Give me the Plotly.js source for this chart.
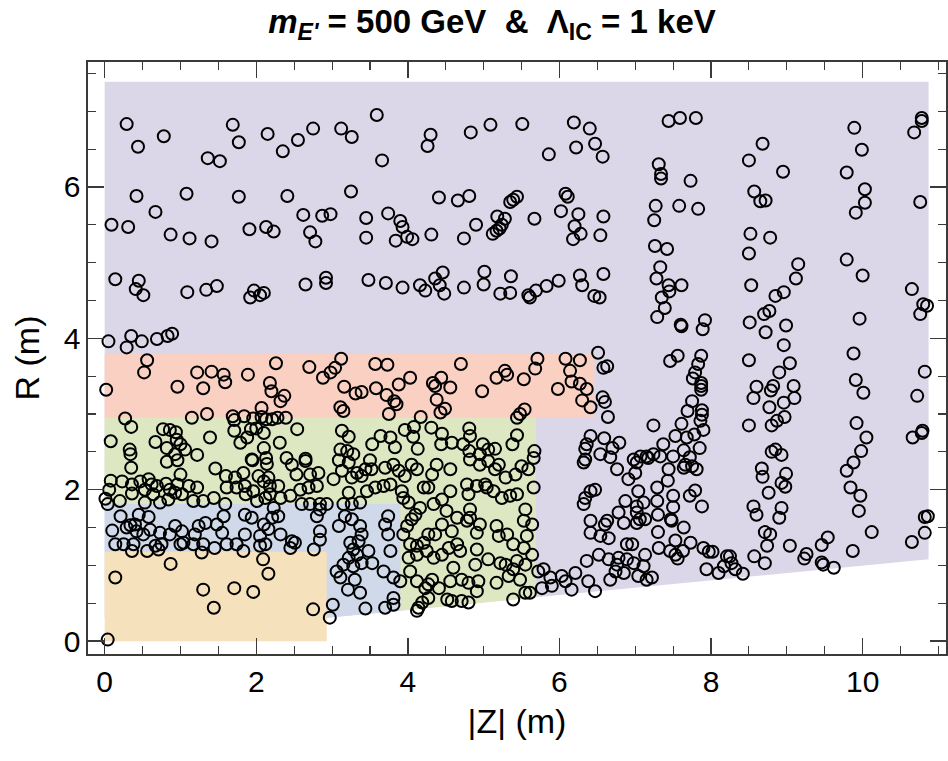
<!DOCTYPE html>
<html>
<head>
<meta charset="utf-8">
<script src="https://cdn.plot.ly/plotly-3.0.1.min.js"></script>
<style>html,body{margin:0;padding:0;background:#fff;}#chart{width:948px;height:761px;}</style>
</head>
<body>
<div id="chart"></div>
<script>
// ---- Detector regions (|Z|, R) in metres ----
const regionNames = ["outer", "band R 2.95-3.8", "band R 1.81-2.95", "band R 1.18-1.81", "inner"];
const outerZ = [0, 10.87, 10.87, 2.93, 0];
const outerR = [7.39, 7.39, 1.08, 0.31, 0.31];
const redZ = [0, 6.46, 6.46, 0];
const redR = [2.95, 2.95, 3.80, 3.80];
const greenZ = [0, 0, 5.69, 5.69, 3.90, 3.90];
const greenR = [1.81, 2.95, 2.95, 0.58, 0.40, 1.81];
const blueZ = [0, 0, 3.90, 3.90, 2.93, 2.93];
const blueR = [1.18, 1.81, 1.81, 0.40, 0.31, 1.18];
const tanZ = [0, 0, 2.93, 2.93];
const tanR = [0, 1.18, 1.18, 0];

// ---- Hit points [|Z|, R] ----
const hitPairs = [
[0.29,6.83],[0.44,6.53],[0.78,6.67],[1.69,6.82],[1.77,6.59],[1.36,6.38],[1.52,6.34],[2.15,6.70],[2.35,6.47],[2.55,6.62],[2.75,6.77],[3.12,6.77],[3.26,6.66],
[0.42,5.88],[1.08,5.91],[1.77,5.87],[2.41,5.88],[3.25,5.94],[0.67,5.67],[0.09,5.50],[0.31,5.47],[0.87,5.37],[1.12,5.32],[1.41,5.28],[1.91,5.44],[2.13,5.47],[2.23,5.41],[2.62,5.63],[2.87,5.62],[2.98,5.64],[2.71,5.40],[2.78,5.28],[3.45,5.59],[3.45,5.33],
[3.59,6.95],[4.30,6.69],[4.26,6.54],[3.66,6.35],[4.83,6.72],[5.09,6.82],[5.51,6.83],[5.86,6.43],[6.19,6.85],[6.40,6.77],[6.22,6.52],[6.47,6.57],[6.57,6.40],
[4.41,5.86],[4.66,5.82],[4.81,5.88],[5.35,5.80],[5.39,5.83],[5.44,5.87],[6.08,5.91],[6.11,5.87],[3.74,5.65],[3.90,5.55],[3.93,5.47],[3.99,5.34],[4.06,5.31],[3.84,5.29],[4.31,5.37],[4.74,5.32],[4.90,5.50],[5.18,5.61],[5.28,5.58],[5.24,5.50],[5.21,5.45],[5.17,5.42],[5.12,5.38],[5.67,5.58],[6.02,5.68],[6.25,5.64],[6.20,5.48],[6.28,5.38],[6.18,5.31],[6.54,5.36],[6.58,5.61],
[7.44,6.87],[7.59,6.91],[7.80,6.91],[8.68,6.57],[8.50,6.35],[8.95,6.20],[9.89,6.78],[9.99,6.49],[9.79,6.19],[10.03,5.97],[10.03,5.79],[9.91,5.66],[10.78,6.91],[10.78,6.87],[10.68,6.72],[10.76,5.80],
[7.31,6.30],[7.34,6.17],[7.34,6.11],[7.73,6.08],[8.57,5.94],[8.65,5.81],[8.72,5.82],[7.27,5.75],[7.25,5.56],[7.58,5.75],[7.83,5.71],[7.26,5.22],[7.42,5.18],[8.52,5.38],[8.78,5.33],[8.50,5.12],[9.79,5.04],[9.15,4.98],[7.33,4.94],
[0.14,4.78],[0.45,4.76],[0.41,4.65],[0.51,4.57],[1.09,4.61],[1.34,4.64],[1.48,4.69],[1.97,4.63],[1.92,4.54],[2.05,4.57],[2.10,4.60],[2.65,4.71],[2.92,4.80],[2.92,4.73],[3.48,4.77],
[0.05,3.96],[0.35,4.03],[0.29,3.88],[0.49,3.96],[0.69,3.99],[0.83,4.03],[0.89,4.06],
[0.56,3.71],[0.52,3.55],[0.02,3.32],[0.96,3.36],[1.22,3.55],[1.41,3.56],[1.57,3.52],[1.59,3.42],[1.30,3.34],[1.89,3.52],[2.18,3.41],[2.20,3.30],[2.32,3.17],[2.37,3.24],[2.26,3.67],[2.70,3.62],[2.88,3.48],[2.98,3.55],[3.04,3.61],[3.12,3.73],[3.16,3.36],[3.31,3.27],[3.39,3.29],[3.11,3.09],[3.15,3.04],[2.07,3.08],
[0.27,2.94],[0.35,2.83],[0.08,2.64],[1.15,2.95],[1.35,3.00],[1.69,2.97],[1.71,2.92],[1.84,2.97],[1.96,2.94],[2.07,2.96],[2.13,2.93],[2.21,2.93],[2.28,2.95],[2.39,2.95],[0.77,2.80],[0.86,2.79],[0.94,2.76],[0.67,2.63],[0.82,2.55],[0.95,2.66],[1.00,2.60],[1.06,2.53],[0.93,2.47],[1.39,2.69],[1.22,2.46],[1.71,2.78],[1.79,2.62],[1.88,2.69],[1.93,2.80],[2.00,2.81],[2.10,2.75],[2.10,2.55],[2.31,2.62],[2.54,2.80],[3.13,2.78],[3.22,2.70],[3.11,2.53],[3.20,2.51],[3.28,2.47],[3.53,2.60],[0.33,2.53],[0.34,2.47],[2.13,2.42],[2.40,2.42],[2.65,2.41],[1.94,2.40],
[3.71,4.73],[3.93,4.67],[4.16,4.70],[4.23,4.63],[4.36,4.79],[4.46,4.87],[4.42,4.70],[4.48,4.59],[4.74,4.67],[5.01,4.88],[5.00,4.71],[5.22,4.59],[5.35,4.60],[5.36,4.82],[5.59,4.57],[5.61,4.54],[5.69,4.63],[5.83,4.69],[5.99,4.76],[6.27,4.83],[6.30,4.70],[6.58,4.85],[6.46,4.56],[6.53,4.54],
[3.57,3.66],[3.73,3.65],[3.58,3.34],[3.72,3.25],[3.82,3.17],[3.85,3.13],[3.75,3.00],[3.88,3.39],[4.03,3.48],[4.33,3.41],[4.36,3.37],[4.44,3.48],[4.56,3.35],[4.38,3.19],[4.49,3.07],[4.43,3.02],[4.70,3.66],[4.98,3.30],[5.17,3.48],[5.28,3.57],[5.31,3.52],[5.53,3.46],[5.68,3.60],[5.71,3.73],[5.44,2.95],[5.48,3.00],[5.54,3.06],[5.98,3.33],[6.08,3.73],[6.27,3.71],[6.14,3.57],[6.16,3.43],[6.27,3.40],[6.36,3.33],[6.30,3.18],[6.41,3.09],
[6.51,3.81],[6.58,3.61],[6.63,3.63],[6.57,3.22],[6.60,3.16],[6.64,2.96],
[4.17,2.96],[4.08,2.83],[3.96,2.79],[4.07,2.70],[4.31,2.82],[4.45,2.74],[4.44,2.60],[4.58,2.62],[4.81,2.81],[4.82,2.71],[4.73,2.60],[4.99,2.60],[4.81,2.51],[5.15,2.54],[5.38,2.60],[5.44,2.72],[5.67,2.51],[3.64,2.71],[3.77,2.69],[3.83,2.56],[4.13,2.54],[5.06,2.53],[4.95,2.47],
[6.41,2.71],[6.59,2.68],[6.79,2.62],[6.36,2.60],[6.34,2.54],[6.70,2.55],[7.24,2.85],[7.24,2.47],[7.07,2.44],[7.15,2.44],[6.98,2.40],[6.54,2.47],[6.67,2.43],
[7.28,4.79],[7.44,4.70],[7.61,4.70],[7.45,4.62],[7.35,4.54],[7.39,4.40],[7.29,4.28],[7.60,4.18],[7.61,4.16],[7.92,4.24],[7.89,4.12],[7.46,3.70],[7.56,3.77],[7.87,3.77],[7.83,3.66],[7.79,3.55],[7.76,3.47],[7.87,3.41],[7.87,3.37],[7.87,3.32],[7.75,3.17],[7.69,3.04],[7.88,3.05],[7.88,2.99],[7.86,2.91],[7.90,2.79],[7.61,2.87],[7.53,2.71],[7.68,2.69],[7.78,2.73],[7.37,2.60],[7.85,2.55],[7.64,2.52],[7.50,2.44],[7.72,2.43],[7.33,2.44],
[9.12,4.79],[8.53,4.70],[8.96,4.61],[8.85,4.56],[8.70,4.32],[8.77,4.36],[8.51,4.21],[8.72,4.08],[8.99,4.17],[8.96,3.91],[8.50,3.71],[9.04,3.67],[8.90,3.55],[8.60,3.36],[8.79,3.31],[8.82,3.37],[9.09,3.37],[9.10,3.21],[8.56,3.21],[8.96,3.15],[8.77,3.09],[8.97,2.96],[8.87,2.91],[8.80,2.85],[8.50,2.85],[8.80,2.50],[8.85,2.53],[8.93,2.46],
[10.00,4.83],[9.96,4.26],[9.88,3.80],[9.91,3.45],[10.01,3.28],[9.92,2.88],[10.05,2.69],[9.98,2.51],[10.65,4.65],[10.80,4.45],[10.85,4.43],[10.76,4.32],[10.82,3.56],[10.72,3.24],[10.66,2.69],[10.78,2.75],[10.79,2.78],
[0.35,2.29],[0.82,2.37],[0.96,2.39],[1.46,2.28],[1.95,2.39],[2.14,2.34],[2.47,2.33],[2.65,2.38],[3.09,2.39],[3.22,2.36],[3.50,2.39],[3.44,2.27],
[0.08,2.12],[0.23,2.11],[0.36,2.07],[0.47,2.11],[0.58,2.14],[0.62,2.07],[0.53,2.00],[0.69,2.05],[0.81,2.08],[0.86,2.00],[0.96,2.07],[1.00,2.20],[1.11,2.05],[1.22,2.03],[0.06,2.00],[0.01,1.88],[0.04,1.81],[0.20,1.85],[0.36,1.95],[0.53,1.83],[0.64,1.94],[0.73,1.83],[0.84,1.87],[0.93,1.96],[1.02,1.94],[1.17,1.85],[1.30,1.85],[1.44,1.89],[1.59,1.81],[1.61,2.03],[1.60,2.18],[1.72,2.16],[1.74,2.03],[1.83,2.22],[1.85,2.05],[1.86,1.94],[1.96,1.98],[2.03,2.18],[2.10,2.11],[2.16,2.16],[2.18,2.05],[2.18,1.94],[2.29,2.05],[2.32,1.89],[2.12,1.89],[2.01,1.85],[2.45,1.92],[2.58,2.00],[2.53,2.20],[2.71,2.20],[2.82,2.22],[2.80,2.05],[2.69,2.03],[2.60,1.81],[2.71,1.81],[2.84,1.81],[2.93,1.81],[3.02,2.14],[3.13,2.25],[3.26,2.16],[3.33,2.22],[3.39,2.18],[3.52,2.27],[3.22,1.96],[3.46,1.98],[3.57,2.03],[3.15,1.81],[3.26,1.81],[3.37,1.83],
[0.21,1.65],[0.45,1.67],[0.58,1.64],[0.10,1.46],[0.29,1.50],[0.34,1.53],[0.40,1.54],[0.42,1.45],[0.51,1.41],[0.60,1.47],[0.73,1.43],[0.86,1.41],[0.93,1.52],[1.02,1.45],[0.14,1.28],[0.25,1.28],[0.36,1.19],[0.38,1.28],[0.56,1.19],[0.67,1.26],[0.71,1.21],[0.75,1.28],[1.00,1.28],[1.04,1.30],[1.17,1.28],[1.19,1.41],[1.24,1.52],[1.33,1.56],[1.30,1.28],[1.28,1.17],[1.45,1.23],[1.48,1.54],[1.55,1.43],[1.57,1.65],[1.61,1.28],[1.74,1.28],[1.83,1.19],[1.85,1.41],[1.85,1.67],[1.94,1.63],[2.05,1.39],[2.10,1.54],[2.16,1.48],[2.21,1.63],[2.23,1.76],[2.29,1.65],[2.05,1.26],[2.12,1.28],[2.32,1.41],[2.45,1.23],[2.47,1.32],[2.51,1.30],[2.76,1.21],[2.84,1.45],[2.84,1.34],[2.80,1.65],[2.84,1.74],
[3.09,1.52],[3.17,1.65],[3.26,1.61],[3.37,1.52],[3.39,1.41],[3.35,1.32],[3.24,1.30],[3.28,1.21],[3.33,1.14],[3.48,1.19],[3.22,1.10],[3.15,1.01],[3.06,0.92],[3.11,0.84],[3.28,0.99],[3.39,1.03],[3.53,1.03],[3.30,0.81],[3.21,0.68],[3.37,0.64],[3.44,0.43],[3.01,0.48],[2.97,0.31],
[0.14,0.84],[0.87,1.02],[1.30,0.68],[1.44,0.44],[1.71,0.70],[1.96,0.65],[2.09,1.08],[2.16,0.89],[2.75,0.42],[0.04,0.02],
[3.70,2.29],[3.81,2.33],[3.88,2.25],[3.96,2.18],[4.05,2.33],[4.12,2.27],[4.32,2.20],[4.38,2.33],[4.56,2.27],[4.82,2.40],[4.95,2.33],[5.06,2.38],[5.15,2.27],[5.20,2.33],[5.29,2.16],[5.42,2.20],[5.50,2.31],[5.59,2.27],[5.66,2.42],
[3.68,2.05],[3.77,2.07],[3.94,1.89],[3.92,1.98],[4.01,1.83],[4.21,2.03],[4.27,2.03],[4.34,1.81],[4.45,1.87],[4.56,1.98],[4.78,2.07],[4.80,1.94],[4.91,2.05],[5.02,2.07],[5.04,2.03],[5.13,1.98],[5.24,1.89],[5.35,1.92],[5.44,1.94],[5.55,1.74],[5.66,2.03],[4.82,1.74],[4.51,1.72],[4.16,1.76],[4.10,1.67],[4.05,1.61],[3.99,1.52],[3.94,1.41],[4.03,1.28],[4.12,1.26],[4.21,1.30],[4.27,1.41],[4.36,1.41],[4.45,1.54],[4.58,1.45],[4.65,1.63],[4.78,1.59],[4.82,1.63],[4.91,1.43],[4.95,1.54],[5.17,1.52],[5.20,1.39],[5.31,1.41],[5.53,1.59],[5.64,1.54],[5.57,1.39],[5.39,1.28],[5.53,1.23],[5.64,1.14],[5.44,1.06],[5.55,1.01],[5.39,0.95],[5.29,1.01],[5.22,1.03],[5.06,1.08],[4.91,1.21],[4.89,1.01],[4.69,1.19],[4.65,1.28],[4.54,1.23],[4.45,1.14],[4.34,1.10],[4.25,1.19],[4.12,1.14],[4.01,1.10],[4.03,0.92],[4.12,0.79],[4.23,0.70],[4.27,0.75],[4.32,0.81],[4.41,0.70],[4.56,0.79],[4.71,0.81],[4.80,0.77],[4.93,0.79],[4.60,0.97],[5.17,0.77],[5.33,0.86],[5.48,0.81],[4.27,0.57],[4.14,0.44],[4.12,0.40],[4.19,0.51],[4.52,0.55],[4.58,0.53],[4.71,0.53],[4.80,0.51],[4.91,0.66],[5.39,0.55],[5.55,0.64],[5.61,0.64],
[3.90,0.79],[3.81,0.84],[3.68,0.92],[3.77,1.19],[3.74,1.41],[3.70,1.54],[3.74,1.65],[3.81,0.57],[3.70,0.44],[3.81,0.48],
[5.72,0.92],[5.79,0.95],[5.88,0.84],[5.90,0.73],[5.77,0.70],[6.03,0.86],[6.16,0.68],[6.21,0.90],[6.08,0.79],[6.38,0.79],[6.47,0.66],[6.36,1.06],[6.52,1.14],[6.65,1.08],[6.78,1.10],[6.76,1.01],[6.89,1.08],[6.74,0.92],[6.67,0.81],[6.85,0.90],[7.04,0.86],[7.15,0.81],[7.22,0.84],[6.98,1.03],[7.11,0.99],[7.13,1.14],[6.89,1.28],[6.96,1.28],[6.41,1.43],[6.54,1.39],[6.65,1.36],[6.41,1.59],[6.60,1.54],[6.63,1.59],[6.85,1.56],[6.78,1.70],[7.02,1.56],[7.06,1.61],[7.13,1.61],[7.02,1.70],[7.11,1.83],[7.02,1.78],[6.87,1.85],[7.04,1.98],[6.32,1.81],[6.34,1.89],[6.41,1.98],[6.47,2.00],[7.29,2.03],[7.29,1.85],[7.30,1.67],[7.30,1.44],[7.31,1.23],[6.32,2.36],[6.34,2.40],[6.76,2.27],[6.91,2.14],[7.00,2.22],[7.02,2.36],[7.17,2.42],
[7.44,2.27],[7.43,2.12],[7.64,2.29],[7.66,2.33],[7.75,2.31],[7.81,2.27],[7.50,1.92],[7.72,1.92],[7.79,1.99],[7.88,1.78],[7.50,1.77],[7.47,1.61],[7.48,1.59],[7.64,1.50],[7.53,1.33],[7.46,1.19],[7.53,1.14],[7.56,1.09],[7.63,1.19],[7.73,1.30],[7.90,1.23],[7.97,1.18],[8.02,1.18],[7.94,0.95],[8.10,0.90],[8.21,1.12],[8.25,1.12],[8.27,1.03],[8.32,0.95],[8.42,0.89],[8.17,0.99],
[8.67,2.28],[8.68,2.17],[8.99,2.21],[8.93,2.09],[8.98,2.04],[8.76,1.96],[8.56,1.78],[8.60,1.67],[8.93,1.76],[8.90,1.63],[8.71,1.44],[8.78,1.41],[8.74,1.26],[8.57,1.12],[8.71,1.03],[9.04,1.26],[9.26,1.15],[9.23,1.09],[9.46,1.27],[9.54,1.37],[9.46,1.04],[9.48,1.01],[9.62,0.97],
[9.79,2.25],[9.88,2.36],[9.84,2.03],[9.97,1.92],[9.95,1.72],[10.12,1.44],[9.87,1.19],[10.65,1.31],[10.82,1.43],[10.82,1.64],[10.86,1.65]
];
const hitZ = hitPairs.map(p => p[0]);
const hitR = hitPairs.map(p => p[1]);

// ---- Axis ticks ----
const xTickVals = [0, 2, 4, 6, 8, 10];
const yTickVals = [0, 2, 4, 6];

const FONT = "Liberation Sans, Arial, Helvetica, sans-serif";
const fillColors = {
  outer: "rgb(219,215,232)",
  red: "rgb(249,208,194)",
  green: "rgb(221,231,194)",
  blue: "rgb(207,217,233)",
  tan: "rgb(246,225,189)"
};

function region(z, r, color, name) {
  return {type: "scatter", mode: "lines", x: z, y: r, fill: "toself", fillcolor: color,
          line: {width: 0, color: color}, hoverinfo: "skip", showlegend: false, name: name};
}

const traces = [
  region(outerZ, outerR, fillColors.outer, regionNames[0]),
  region(redZ, redR, fillColors.red, regionNames[1]),
  region(greenZ, greenR, fillColors.green, regionNames[2]),
  region(blueZ, blueR, fillColors.blue, regionNames[3]),
  region(tanZ, tanR, fillColors.tan, regionNames[4]),
  {type: "scatter", mode: "markers", x: hitZ, y: hitR, showlegend: false, name: "hits",
   marker: {symbol: "circle-open", size: 12, color: "black", line: {width: 2, color: "black"}}}
];

const axisCommon = {
  showgrid: false, zeroline: false, showline: true, linecolor: "#3a3a3a", linewidth: 1.6,
  mirror: "allticks", ticks: "inside", ticklen: 16, tickwidth: 1.3, tickcolor: "#3a3a3a",
  minor: {dtick: 0.5, ticks: "inside", ticklen: 8, tickwidth: 1.1, tickcolor: "#3a3a3a"},
  tickfont: {family: FONT, size: 30, color: "black"}
};

const layout = {
  width: 948, height: 761,
  margin: {l: 88, r: 2, t: 62, b: 107},
  paper_bgcolor: "white", plot_bgcolor: "white",
  title: {text: "<b><i>m</i><sub><i>E'</i></sub> = 500 GeV  &  Λ<sub>IC</sub> = 1 keV</b>",
          font: {family: FONT, size: 33, color: "black"},
          x: 0.519, xref: "container", xanchor: "center", y: 0.972, yref: "container", yanchor: "middle"},
  xaxis: Object.assign({}, axisCommon, {range: [-0.22, 11.10], tickvals: xTickVals,
          title: {text: "|Z| (m)", font: {family: FONT, size: 34, color: "black"}, standoff: 12}}),
  yaxis: Object.assign({}, axisCommon, {range: [-0.17, 7.65], tickvals: yTickVals,
          title: {text: "R (m)", font: {family: FONT, size: 34, color: "black"}, standoff: 14}})
};

Plotly.newPlot("chart", traces, layout, {displayModeBar: false, staticPlot: true});
</script>
</body>
</html>
